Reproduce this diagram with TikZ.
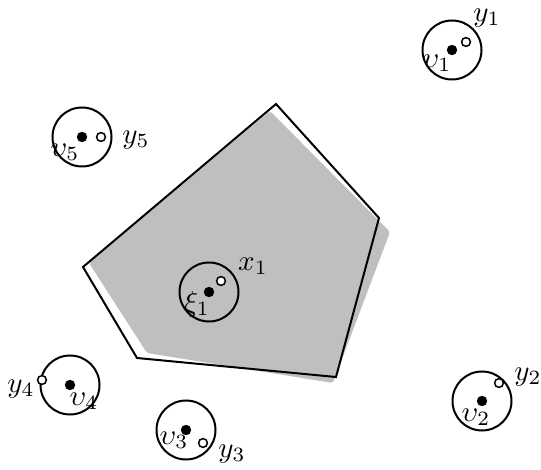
\documentclass[tikz,border=0pt]{standalone}
\usepackage{graphicx}
\newcommand{\lbltxt}[1]{\scalebox{1.45}{$#1$}}
\begin{document}
\begin{tikzpicture}[x=0.5pt,y=-0.5pt,
  edge/.style={line width=1pt,line join=miter},
  ring/.style={circle,draw,line width=1pt,minimum size=29.5pt,inner sep=0pt},
  dot/.style={circle,fill,minimum size=5.2pt,inner sep=0pt},
  hole/.style={circle,draw,fill=white,line width=0.75pt,minimum size=4.4pt,inner sep=0pt},
  lab/.style={inner sep=0pt}]
\useasboundingbox (0,0) rectangle (541,470);
% grey region
\fill[black!25,rounded corners=1pt] (270,111) -- (390,232) -- (333,383) -- (147,353) -- (89,263) -- cycle;
% black pentagon
\coordinate (p1) at (276,104);
\coordinate (p2) at (379,218);
\coordinate (p3) at (336,377);
\coordinate (p4) at (137,358);
\coordinate (p5) at (83,267);
\draw[edge] (p1) -- (p2) -- (p3) -- (p4) -- (p5) -- cycle;
% v1
\node[ring] (r1) at (452,50) {};
\node[dot] (d1) at (452,50) {};
\node[hole] (h1) at (466,42) {};
\node[lab] (ly1) at (487,18) {\lbltxt{y_1}};
\node[lab] (lv1) at (437,63) {\lbltxt{\upsilon_1}};
% v5
\node[ring] (r5) at (82,137) {};
\node[dot] (d5) at (82,137) {};
\node[hole] (h5) at (101,137) {};
\node[lab] (ly5) at (136,140) {\lbltxt{y_5}};
\node[lab] (lv5) at (65,152) {\lbltxt{\upsilon_5}};
% xi1
\node[ring] (rx) at (209,292) {};
\node[dot] (dx) at (209,292) {};
\node[hole] (hx) at (221,281) {};
\node[lab] (lx1) at (253,266) {\lbltxt{x_1}};
\node[lab] (lxi) at (197,304) {\lbltxt{\xi_1}};
% v4
\node[ring] (r4) at (70,385) {};
\node[dot] (d4) at (70,385) {};
\node[hole] (h4) at (42,380) {};
\node[lab] (ly4) at (21,389) {\lbltxt{y_4}};
\node[lab] (lv4) at (84,401) {\lbltxt{\upsilon_4}};
% v3
\node[ring] (r3) at (186,430) {};
\node[dot] (d3) at (186,430) {};
\node[hole] (h3) at (203,443) {};
\node[lab] (ly3) at (232,454) {\lbltxt{y_3}};
\node[lab] (lv3) at (174,440) {\lbltxt{\upsilon_3}};
% v2
\node[ring] (r2) at (482,401) {};
\node[dot] (d2) at (482,401) {};
\node[hole] (h2) at (499,383) {};
\node[lab] (ly2) at (528,377) {\lbltxt{y_2}};
\node[lab] (lv2) at (476,417) {\lbltxt{\upsilon_2}};
\end{tikzpicture}
\end{document}
